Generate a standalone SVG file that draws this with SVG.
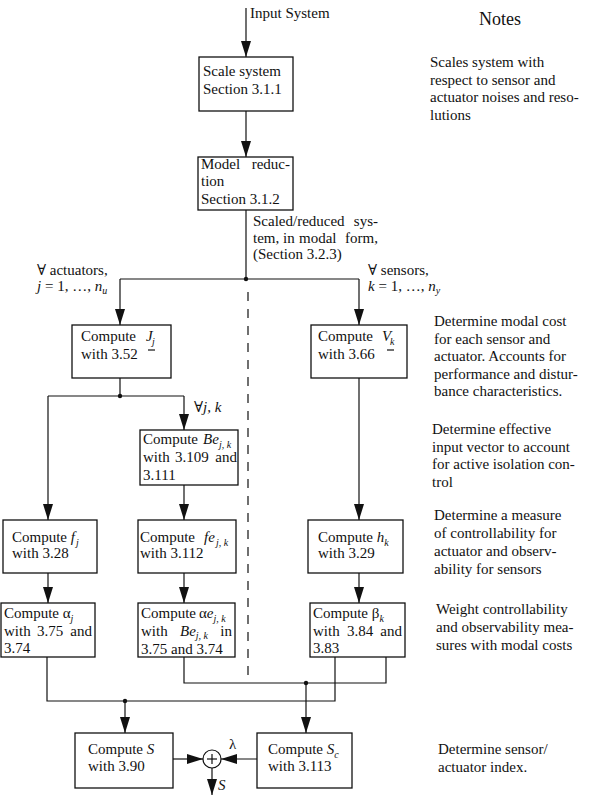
<svg xmlns="http://www.w3.org/2000/svg" width="597" height="795" viewBox="0 0 597 795">
<style>
text{font-family:"Liberation Serif","DejaVu Serif",serif;font-size:15px;fill:#111}
.i{font-style:italic}
.s{font-size:10px;font-style:italic}
.nt{font-size:18px}
.box{fill:#fff;stroke:#111;stroke-width:1.3}
.ln{stroke:#111;stroke-width:1.2;fill:none}
.ar{stroke:#111;stroke-width:1.2;fill:none;marker-end:url(#ah)}
.dot{fill:#111}
</style>
<defs>
<marker id="ah" markerUnits="userSpaceOnUse" markerWidth="16" markerHeight="10" refX="16" refY="5" orient="auto">
<path d="M0,0 L16,5 L0,10 z" fill="#111"/>
</marker>
</defs>
<rect width="597" height="795" fill="#fff"/>

<g id="connectors">
<line class="ar" x1="246" y1="8" x2="246" y2="57"/>
<line class="ar" x1="246" y1="111" x2="246" y2="157"/>
<line class="ln" x1="246" y1="210" x2="246" y2="279"/>
<line class="ln" x1="120" y1="279" x2="359" y2="279"/>
<circle class="dot" cx="246" cy="279" r="2.2"/>
<line class="ar" x1="120" y1="279" x2="120" y2="325"/>
<line class="ar" x1="359" y1="279" x2="359" y2="325"/>
<line class="ln" x1="248" y1="292" x2="248" y2="676" stroke-dasharray="9 8"/>
<line class="ln" x1="120" y1="378" x2="120" y2="396"/>
<line class="ln" x1="48" y1="396" x2="184" y2="396"/>
<circle class="dot" cx="120" cy="396" r="2.2"/>
<line class="ar" x1="48" y1="396" x2="48" y2="520"/>
<line class="ar" x1="184" y1="396" x2="184" y2="430"/>
<line class="ar" x1="184" y1="485" x2="184" y2="520"/>
<line class="ar" x1="359" y1="378" x2="359" y2="520"/>
<line class="ar" x1="48" y1="573" x2="48" y2="603"/>
<line class="ar" x1="184" y1="573" x2="184" y2="603"/>
<line class="ar" x1="359" y1="573" x2="359" y2="603"/>
<polyline class="ln" points="47,657 47,701 335,701 335,657"/>
<polyline class="ln" points="184,657 184,683 386,683 386,657"/>
<circle class="dot" cx="125" cy="701" r="2.2"/>
<circle class="dot" cx="306" cy="683" r="2.2"/>
<line class="ar" x1="125" y1="701" x2="125" y2="733"/>
<line class="ar" x1="306" y1="683" x2="306" y2="733"/>
<line class="ar" x1="173" y1="759" x2="203" y2="759"/>
<line class="ar" x1="257" y1="759" x2="221" y2="759"/>
<line class="ar" x1="212" y1="768" x2="212" y2="795"/>
</g>

<g id="input-label"><text x="250" y="18">Input System</text></g>

<g id="scale-system">
<rect class="box" x="199" y="57" width="94" height="54"/>
<text x="203" y="76">Scale system</text>
<text x="203" y="94">Section 3.1.1</text>
</g>

<g id="model-reduction">
<rect class="box" x="198" y="157" width="95" height="53"/>
<text x="201" y="169">Model</text>
<text x="290" y="169" text-anchor="end">reduc-</text>
<text x="201" y="186">tion</text>
<text x="201" y="204">Section 3.1.2</text>
</g>

<g id="scaled-label">
<text x="253" y="226">Scaled/reduced</text>
<text x="378" y="226" text-anchor="end">sys-</text>
<text x="253" y="243">tem,</text>
<text x="283" y="243">in</text>
<text x="299" y="243">modal</text>
<text x="378" y="243" text-anchor="end">form,</text>
<text x="253" y="259">(Section 3.2.3)</text>
</g>

<g id="actuators-label">
<text x="37" y="275">∀ actuators,</text>
<text x="37" y="291"><tspan class="i">j</tspan> = 1, …, <tspan class="i">n</tspan><tspan class="s" dy="3">u</tspan></text>
</g>
<g id="sensors-label">
<text x="368" y="275">∀ sensors,</text>
<text x="368" y="291"><tspan class="i">k</tspan> = 1, …, <tspan class="i">n</tspan><tspan class="s" dy="3">y</tspan></text>
</g>

<g id="compute-J">
<rect class="box" x="72" y="325" width="99" height="53"/>
<text x="81" y="341">Compute</text>
<text x="146" y="341" class="i">J</text>
<text x="152" y="345" class="s">j</text>
<line class="ln" x1="148" y1="350" x2="155" y2="350"/>
<text x="81" y="359">with 3.52</text>
</g>

<g id="compute-V">
<rect class="box" x="311" y="325" width="96" height="53"/>
<text x="318" y="341">Compute</text>
<text x="382" y="341" class="i">V</text>
<text x="390" y="345" class="s">k</text>
<line class="ln" x1="387" y1="350" x2="394" y2="350"/>
<text x="318" y="359">with 3.66</text>
</g>

<g id="forall-jk"><text x="194" y="412">∀<tspan class="i">j, k</tspan></text></g>

<g id="compute-Be">
<rect class="box" x="140" y="430" width="98" height="55"/>
<text x="143" y="444">Compute</text>
<text x="203" y="444" class="i">Be</text>
<text x="219" y="448" class="s">j, k</text>
<text x="143" y="462">with</text>
<text x="175" y="462">3.109</text>
<text x="237" y="462" text-anchor="end">and</text>
<text x="143" y="480">3.111</text>
</g>

<g id="compute-f">
<rect class="box" x="3" y="520" width="94" height="53"/>
<text x="12" y="542">Compute <tspan class="i">f</tspan><tspan class="s" dx="1" dy="4">j</tspan></text>
<text x="12" y="558">with 3.28</text>
</g>

<g id="compute-fe">
<rect class="box" x="138" y="520" width="98" height="53"/>
<text x="140" y="542">Compute</text>
<text x="204" y="542" class="i">fe</text>
<text x="216" y="546" class="s">j, k</text>
<text x="140" y="558">with 3.112</text>
</g>

<g id="compute-h">
<rect class="box" x="308" y="520" width="95" height="53"/>
<text x="318" y="542">Compute <tspan class="i">h</tspan><tspan class="s" dy="4">k</tspan></text>
<text x="318" y="558">with 3.29</text>
</g>

<g id="compute-alpha">
<rect class="box" x="1" y="603" width="94" height="54"/>
<text x="4" y="618">Compute α<tspan class="s" dy="4">j</tspan></text>
<text x="4" y="636">with</text>
<text x="37" y="636">3.75</text>
<text x="92" y="636" text-anchor="end">and</text>
<text x="4" y="653">3.74</text>
</g>

<g id="compute-alphae">
<rect class="box" x="138" y="603" width="97" height="54"/>
<text x="141" y="618">Compute</text>
<text x="199" y="618">α<tspan class="i">e</tspan><tspan class="s" dy="4">j, k</tspan></text>
<text x="141" y="636">with</text>
<text x="180" y="636"><tspan class="i">Be</tspan><tspan class="s" font-size="9" dy="2.5">j, k</tspan></text>
<text x="232" y="636" text-anchor="end">in</text>
<text x="141" y="654">3.75 and 3.74</text>
</g>

<g id="compute-beta">
<rect class="box" x="310" y="603" width="95" height="54"/>
<text x="313" y="618">Compute β<tspan class="s" dy="4">k</tspan></text>
<text x="313" y="636">with</text>
<text x="347" y="636">3.84</text>
<text x="402" y="636" text-anchor="end">and</text>
<text x="313" y="653">3.83</text>
</g>

<g id="compute-S">
<rect class="box" x="75" y="733" width="98" height="55"/>
<text x="88" y="754">Compute <tspan class="i">S</tspan></text>
<text x="88" y="771">with 3.90</text>
</g>

<g id="compute-Sc">
<rect class="box" x="257" y="733" width="95" height="55"/>
<text x="268" y="754">Compute <tspan class="i">S</tspan><tspan class="s" dy="4">c</tspan></text>
<text x="268" y="771">with 3.113</text>
</g>

<g id="sum">
<circle cx="212" cy="759" r="9" fill="#fff" stroke="#111" stroke-width="1.2"/>
<line class="ln" x1="207" y1="759" x2="217" y2="759"/>
<line class="ln" x1="212" y1="754" x2="212" y2="764"/>
<text x="229" y="749" font-size="13">λ</text>
<text x="218" y="790" class="i" font-size="12">S</text>
</g>

<g id="notes">
<text x="500" y="25" class="nt" text-anchor="middle">Notes</text>
<text x="430" y="67">Scales system with</text>
<text x="430" y="84.5">respect to sensor and</text>
<text x="430" y="102">actuator noises and reso-</text>
<text x="430" y="119.5">lutions</text>

<text x="434" y="326">Determine modal cost</text>
<text x="434" y="343.5">for each sensor and</text>
<text x="434" y="361">actuator. Accounts for</text>
<text x="434" y="378.5">performance and distur-</text>
<text x="434" y="396">bance characteristics.</text>

<text x="432" y="434">Determine effective</text>
<text x="432" y="451.5">input vector to account</text>
<text x="432" y="469">for active isolation con-</text>
<text x="432" y="486.5">trol</text>

<text x="434" y="520">Determine a measure</text>
<text x="434" y="538">of controllability for</text>
<text x="434" y="556">actuator and observ-</text>
<text x="434" y="574">ability for sensors</text>

<text x="436" y="614">Weight controllability</text>
<text x="436" y="632">and observability mea-</text>
<text x="436" y="650">sures with modal costs</text>

<text x="438" y="754">Determine sensor/</text>
<text x="438" y="772">actuator index.</text>
</g>
</svg>
